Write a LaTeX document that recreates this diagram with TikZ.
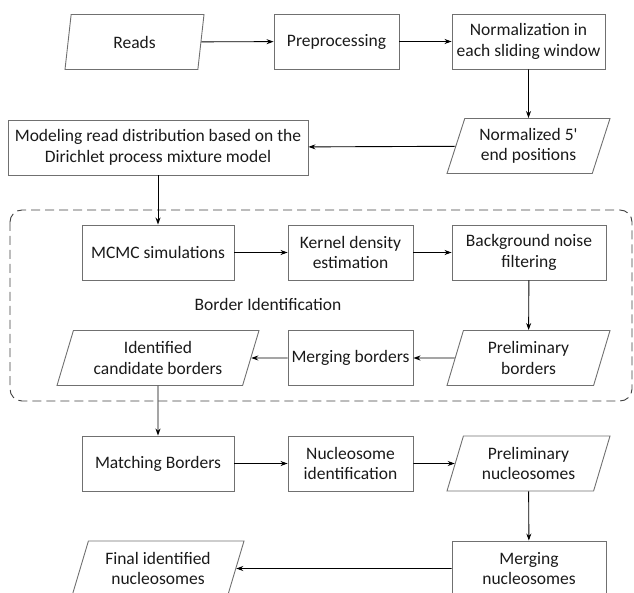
\documentclass[tikz,border=0pt]{standalone}
\usepackage{fontspec}
\setmainfont{Carlito}
\usetikzlibrary{shapes.geometric}
\usetikzlibrary{arrows.meta}
\definecolor{boxgray}{HTML}{707070}
\definecolor{txtgray}{HTML}{1A1A1A}
\tikzset{
  stepbox/.style={draw=boxgray, line width=0.9pt, minimum height=55pt, inner sep=0pt,
    align=center, text=txtgray, font=\fontsize{17.5}{20.5}\selectfont},
  databox/.style={stepbox, trapezium, trapezium left angle=63.4,
    trapezium right angle=116.6, trapezium stretches body},
  flow/.style={-{Stealth[length=7pt,width=5pt]}, line width=0.9pt, black}
}
\begin{document}
\begin{tikzpicture}[x=1pt, y=-1pt]
	    \useasboundingbox (0,0) rectangle (634,593);
	    % top row
	    \node[databox, minimum width=139pt] (reads) at (134.5,42) {Reads};
	    \node[stepbox, minimum width=125pt] (prep) at (336.5,41.5) {Preprocessing};
	    \node[stepbox, minimum width=153pt] (norm) at (528.5,41.5) {Normalization in\\each sliding window};
	    % second row
	    \node[databox, minimum width=163pt] (normpos) at (528.5,146) {Normalized 5\textquotesingle\\end positions};
	    \node[stepbox, minimum width=300pt] (model) at (158,147.5) {Modeling read distribution based on the\\Dirichlet process mixture model};
	    
	    % border identification block
	    \draw[color=black!75, line width=0.9pt, dash pattern=on 9pt off 5pt, rounded corners=12pt]
	    (10,210) rectangle (632,401);
	    \node[text=txtgray, font=\fontsize{17.5}{20.5}\selectfont] (bordlabel) at (268,304) {Border Identification};
	    \node[stepbox, minimum width=152pt] (mcmc) at (158,252.5) {MCMC simulations};
	    \node[stepbox, minimum width=125pt] (kernel) at (350.5,252.5) {Kernel density\\estimation};
	    \node[stepbox, minimum width=154pt] (backgr) at (529,252.5) {Background noise\\filtering};
	    \node[databox, minimum width=163pt] (prelbord) at (528.5,358) {Preliminary\\borders};
	    \node[stepbox, minimum width=125pt] (mergbord) at (350.5,358) {Merging borders};
	    \node[databox, minimum width=202pt] (candbord) at (158,358) {Identified\\candidate borders};
	    
	    % bottom rows
	    \node[stepbox, minimum width=152pt] (match) at (158,463.5) {Matching Borders};
	    \node[stepbox, minimum width=125pt] (nucid) at (350.5,463.5) {Nucleosome\\identification};
	    \node[databox, minimum width=163pt] (prelnuc) at (528.5,463.5) {Preliminary\\nucleosomes};
	    \node[stepbox, minimum width=154pt] (mergnuc) at (529,568.5) {Merging\\nucleosomes};
	    \node[databox, minimum width=172pt] (final) at (158,568.5) {Final identified\\nucleosomes};
	    
	    % connectors
	    \draw[flow] (reads) -- (prep);
	    \draw[flow] (prep) -- (norm);
	    \draw[flow] (norm) -- (normpos);
	    \draw[flow] (normpos) -- (model);
	    \draw[flow] (model) -- (mcmc);
	    \draw[flow] (mcmc) -- (kernel);
	    \draw[flow] (kernel) -- (backgr);
	    \draw[flow] (backgr) -- (prelbord);
	    \draw[flow] (prelbord) -- (mergbord);
	    \draw[flow] (mergbord) -- (candbord);
	    \draw[flow] (candbord) -- (match);
	    \draw[flow] (match) -- (nucid);
	    \draw[flow] (nucid) -- (prelnuc);
	    \draw[flow] (prelnuc) -- (mergnuc);
	    \draw[flow] (mergnuc) -- (final);
	  \end{tikzpicture}
\end{document}
